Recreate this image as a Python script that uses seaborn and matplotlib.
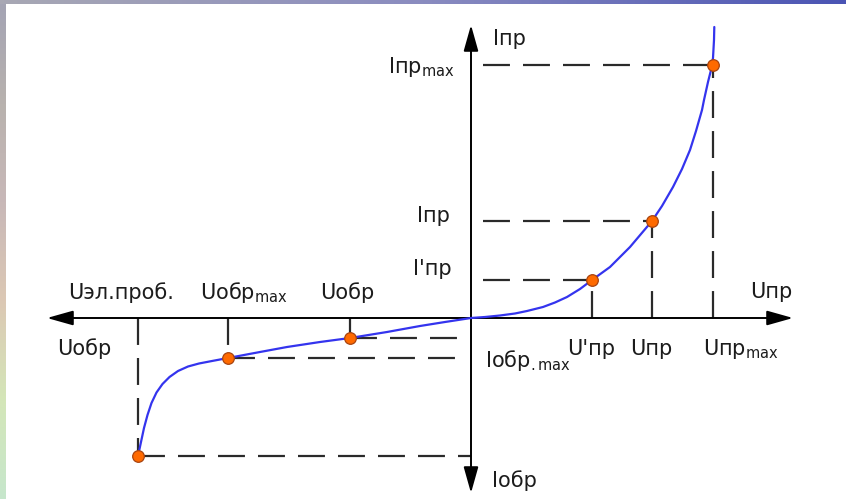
import numpy as np
import matplotlib.pyplot as plt
import seaborn as sns
from matplotlib.colors import to_rgb

# --- 1. ДАННЫЕ (ВАХ диода, 1 ед. = 10 px) ---
# обратная ветвь: от пробоя к нулю
U_rev = [-33.3, -33.0, -32.7, -32.35, -31.95, -31.45, -30.85, -30.15, -29.3,
         -28.3, -27.2, -25.9, -24.3, -21.1, -18.4, -15.1, -12.1, -8.4, -5.1, -2.6, 0.0]
I_rev = [-13.8, -12.4, -11.0, -9.7, -8.5, -7.45, -6.6, -5.9, -5.3,
         -4.85, -4.55, -4.3, -4.0, -3.4, -2.9, -2.4, -2.0, -1.4, -0.8, -0.4, 0.0]
# прямая ветвь
U_fwd = [1.4, 2.9, 4.4, 5.6, 7.2, 8.4, 9.6, 10.9, 12.1, 13.9, 15.9, 18.1,
         19.1, 20.2, 21.1, 21.9, 22.5, 23.1, 23.3, 23.7, 24.0, 24.2, 24.3, 24.33]
I_fwd = [0.1, 0.25, 0.45, 0.7, 1.1, 1.55, 2.1, 2.9, 3.8, 5.1, 7.1, 9.7,
         11.2, 13.1, 14.9, 16.8, 18.7, 20.8, 21.8, 23.6, 24.8, 26.0, 27.8, 29.1]

# характерные точки
point_names = ["Uэл.проб.", "Uобр max", "Uобр", "U'пр", "Uпр", "Uпр max"]
U_points = [-33.3, -24.3, -12.1, 12.1, 18.1, 24.2]
I_points = [-13.8, -4.0, -2.0, 3.8, 9.7, 25.3]

# концы осей
U_axis = (-42.4, 32.2)
I_axis = (-17.5, 29.3)

# подписи: текст, x, y (базовая линия), выравнивание
labels = [
    ("Iпр", 2.2, 27.3, "left"),
    (r"Iпр$_{\mathrm{max}}$", -1.6, 24.5, "right"),
    ("Iпр", -2.1, 9.6, "right"),
    ("I'пр", -1.9, 4.3, "right"),
    ("Uпр", 27.9, 2.0, "left"),
    ("U'пр", 9.6, -3.7, "left"),
    ("Uпр", 15.9, -3.7, "left"),
    (r"Uпр$_{\mathrm{max}}$", 23.2, -3.7, "left"),
    (r"Iобр$_{\mathrm{.max}}$", 1.4, -4.9, "left"),
    ("Uэл.проб.", -40.3, 1.9, "left"),
    (r"Uобр$_{\mathrm{max}}$", -27.1, 1.9, "left"),
    ("Uобр", -15.1, 1.9, "left"),
    ("Uобр", -41.4, -3.7, "left"),
    ("Iобр", 2.1, -16.9, "left"),
]

# --- 2. НАСТРОЙКИ ---
sns.set_theme(style="white")
plt.rcParams['font.family'] = ['DejaVu Sans']
plt.rcParams['lines.scale_dashes'] = False
TXT = '#1c1c1c'
GUIDE = dict(color='#2a2a2a', lw=1.6, dashes=(19.4, 9.4), zorder=2)

fig = plt.figure(figsize=(8.46, 4.99), dpi=100)
fig.patch.set_facecolor('white')
ax = fig.add_axes([0, 0, 1, 1])
ax.set_xlim(-47.1, 37.5)
ax.set_ylim(-18.1, 31.8)
ax.axis('off')

# --- 3. ОСИ СО СТРЕЛКАМИ ---
arrow = dict(arrowstyle="<|-|>,head_length=1.6,head_width=0.45", color='black',
             lw=1.4, shrinkA=0, shrinkB=0, mutation_scale=10)
ax.annotate("", xy=(U_axis[1], 0), xytext=(U_axis[0], 0), arrowprops=arrow, zorder=3)
ax.annotate("", xy=(0, I_axis[1]), xytext=(0, I_axis[0]), arrowprops=arrow, zorder=3)

# --- 4. ПУНКТИРНЫЕ ВЫНОСКИ ---
for i, (u, c) in enumerate(zip(U_points, I_points)):
    ax.plot([u, u], [0, c], **GUIDE)
    if u > 0:
        ax.plot([1.2, u], [c, c], **GUIDE)
    elif i == 0:
        ax.plot([u, 0], [c, c], **GUIDE)
    else:
        ax.plot([u, -1.3], [c, c], **GUIDE)

# --- 5. КРИВАЯ И ТОЧКИ ---
U_curve = U_rev + U_fwd
I_curve = I_rev + I_fwd
sns.lineplot(x=U_curve, y=I_curve, sort=False, estimator=None, color='#3434ee',
             lw=1.6, ax=ax, zorder=4)
sns.scatterplot(x=U_points, y=I_points, s=70, color='#ff6a00', edgecolor='#a84410',
                linewidth=0.9, ax=ax, zorder=5)

for txt, x, y, ha in labels:
    ax.text(x, y, txt, fontsize=15, color=TXT, ha=ha, va='baseline', zorder=6)


# --- 6. РАМКА-ГРАДИЕНТ СЛАЙДА ---
def gradient(stops, n=200):
    cols = np.array([to_rgb(c) for c in stops])
    pos = np.linspace(0, 1, len(stops))
    t = np.linspace(0, 1, n)
    return np.stack([np.interp(t, pos, cols[:, k]) for k in range(3)], axis=-1)


top = fig.add_axes([0, 1 - 4 / 499, 1, 4 / 499])
top.imshow(gradient(['#a8a8b4', '#8a8cc0', '#4a54b4'])[None, :, :], aspect='auto')
top.axis('off')
left = fig.add_axes([0, 0, 5 / 846, 1 - 4 / 499])
left.imshow(gradient(['#a4a4b4', '#b8b2ae', '#c8b8b8', '#dcc8b4', '#d4e6b8', '#c6e6cc'])[:, None, :],
            aspect='auto')
left.axis('off')

fig.savefig('out.png', dpi=100)
